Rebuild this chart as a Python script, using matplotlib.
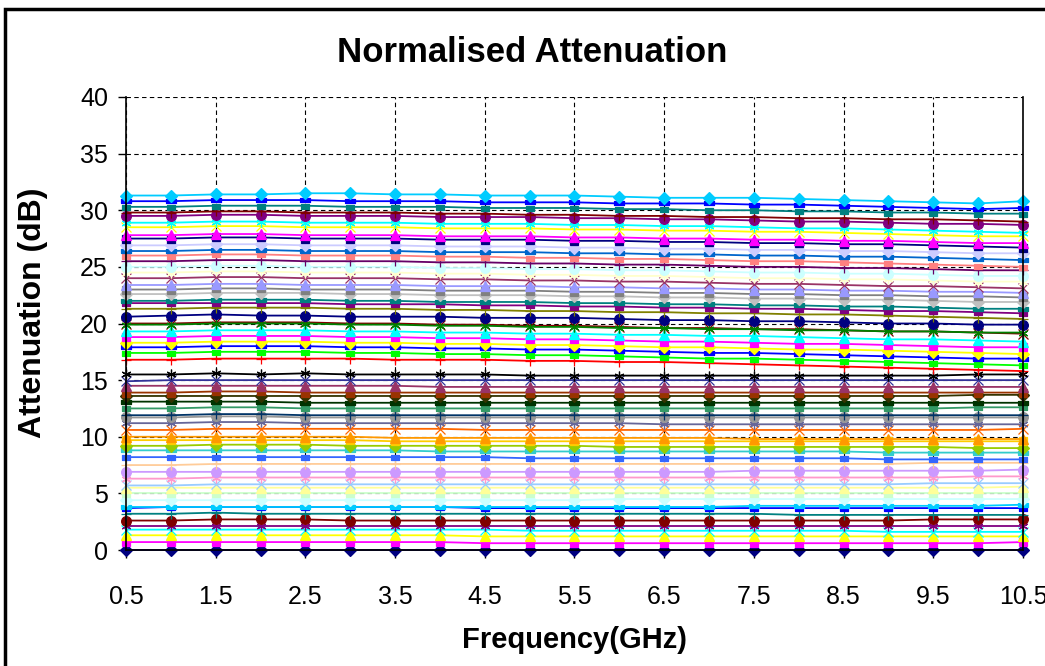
import matplotlib.pyplot as plt
import numpy as np
from matplotlib.patches import Rectangle

plt.rcParams['font.family'] = ['Liberation Sans', 'DejaVu Sans']

# frequency points (GHz), every 0.5 GHz
freq = np.arange(0.5, 10.51, 0.5)
tick_labels = ['0.5', '1.5', '2.5', '3.5', '4.5', '5.5', '6.5', '7.5', '8.5', '9.5', '10.5']

# normalised attenuation per trace (dB), bottom trace first
attenuation = [
    [0.0, 0.0, 0.0, 0.0, 0.0, 0.0, 0.0, 0.0, 0.0, 0.0, 0.0, 0.0, 0.0, 0.0, 0.0, 0.0, 0.0, 0.0, 0.0, 0.0, 0.0],
    [0.7, 0.7, 0.7, 0.7, 0.7, 0.7, 0.7, 0.7, 0.6, 0.6, 0.6, 0.6, 0.6, 0.6, 0.6, 0.6, 0.6, 0.6, 0.6, 0.6, 0.7],
    [1.3, 1.3, 1.3, 1.3, 1.3, 1.3, 1.3, 1.3, 1.2, 1.2, 1.2, 1.2, 1.2, 1.2, 1.2, 1.2, 1.2, 1.2, 1.2, 1.2, 1.2],
    [1.8, 1.8, 1.8, 1.8, 1.8, 1.8, 1.8, 1.8, 1.8, 1.7, 1.7, 1.7, 1.7, 1.7, 1.7, 1.7, 1.7, 1.6, 1.6, 1.6, 1.6],
    [2.1, 2.1, 2.1, 2.1, 2.1, 2.1, 2.1, 2.1, 2.1, 2.1, 2.1, 2.1, 2.1, 2.1, 2.1, 2.1, 2.1, 2.1, 2.1, 2.1, 2.1],
    [2.6, 2.6, 2.7, 2.7, 2.7, 2.6, 2.6, 2.6, 2.6, 2.6, 2.6, 2.6, 2.6, 2.6, 2.6, 2.6, 2.6, 2.6, 2.7, 2.7, 2.7],
    [3.2, 3.2, 3.3, 3.2, 3.2, 3.2, 3.2, 3.2, 3.2, 3.2, 3.2, 3.2, 3.2, 3.2, 3.2, 3.1, 3.1, 3.1, 3.1, 3.1, 3.1],
    [3.7, 3.8, 3.8, 3.8, 3.8, 3.8, 3.8, 3.8, 3.7, 3.7, 3.7, 3.7, 3.7, 3.7, 3.7, 3.7, 3.7, 3.7, 3.7, 3.7, 3.7],
    [3.8, 3.8, 3.8, 3.8, 3.8, 3.8, 3.8, 3.8, 3.8, 3.8, 3.8, 3.8, 3.8, 3.8, 3.9, 3.9, 3.9, 3.9, 3.9, 3.9, 4.0],
    [4.4, 4.4, 4.4, 4.4, 4.4, 4.4, 4.4, 4.4, 4.4, 4.4, 4.4, 4.5, 4.5, 4.5, 4.5, 4.5, 4.5, 4.5, 4.5, 4.5, 4.5],
    [5.0, 5.0, 5.0, 5.0, 5.0, 5.0, 5.0, 5.0, 5.0, 5.0, 5.0, 5.0, 5.0, 5.0, 5.0, 5.0, 5.0, 5.0, 5.0, 5.0, 5.0],
    [5.5, 5.5, 5.5, 5.5, 5.5, 5.5, 5.5, 5.5, 5.5, 5.5, 5.5, 5.5, 5.5, 5.5, 5.5, 5.5, 5.5, 5.5, 5.5, 5.5, 5.6],
    [5.7, 5.7, 5.8, 5.8, 5.8, 5.8, 5.8, 5.8, 5.8, 5.8, 5.8, 5.8, 5.8, 5.8, 5.8, 5.8, 5.8, 5.8, 5.9, 5.9, 5.9],
    [6.3, 6.3, 6.4, 6.4, 6.4, 6.4, 6.4, 6.4, 6.4, 6.4, 6.4, 6.4, 6.4, 6.4, 6.4, 6.4, 6.4, 6.4, 6.4, 6.5, 6.5],
    [6.9, 6.9, 6.9, 6.9, 6.9, 6.9, 6.9, 6.9, 6.9, 6.9, 6.9, 6.9, 6.9, 6.9, 7.0, 7.0, 7.0, 7.0, 7.0, 7.0, 7.1],
    [7.5, 7.5, 7.6, 7.6, 7.6, 7.6, 7.6, 7.6, 7.6, 7.6, 7.6, 7.6, 7.6, 7.6, 7.6, 7.6, 7.6, 7.6, 7.7, 7.7, 7.7],
    [8.2, 8.2, 8.2, 8.2, 8.2, 8.2, 8.2, 8.2, 8.2, 8.1, 8.1, 8.1, 8.1, 8.1, 8.1, 8.1, 8.1, 8.0, 8.0, 8.0, 8.0],
    [8.8, 8.8, 8.8, 8.8, 8.8, 8.8, 8.8, 8.7, 8.7, 8.7, 8.7, 8.7, 8.7, 8.7, 8.7, 8.7, 8.7, 8.6, 8.6, 8.6, 8.6],
    [9.2, 9.2, 9.3, 9.3, 9.3, 9.2, 9.2, 9.2, 9.2, 9.2, 9.2, 9.1, 9.1, 9.1, 9.1, 9.1, 9.1, 9.1, 9.1, 9.0, 9.0],
    [9.7, 9.7, 9.7, 9.7, 9.7, 9.7, 9.6, 9.6, 9.6, 9.6, 9.6, 9.6, 9.6, 9.6, 9.6, 9.6, 9.6, 9.6, 9.6, 9.6, 9.6],
    [10.0, 10.0, 10.0, 10.0, 10.0, 10.0, 9.9, 9.9, 9.9, 9.9, 9.9, 9.9, 9.9, 9.9, 9.8, 9.8, 9.8, 9.8, 9.8, 9.8, 9.8],
    [10.6, 10.6, 10.7, 10.7, 10.7, 10.7, 10.7, 10.7, 10.6, 10.6, 10.6, 10.6, 10.6, 10.6, 10.6, 10.6, 10.6, 10.6, 10.6, 10.6, 10.7],
    [11.2, 11.2, 11.3, 11.3, 11.2, 11.2, 11.2, 11.2, 11.2, 11.2, 11.2, 11.2, 11.1, 11.1, 11.1, 11.1, 11.1, 11.1, 11.1, 11.1, 11.1],
    [11.7, 11.7, 11.8, 11.8, 11.7, 11.7, 11.7, 11.7, 11.7, 11.7, 11.7, 11.7, 11.7, 11.7, 11.7, 11.7, 11.7, 11.7, 11.7, 11.7, 11.7],
    [11.9, 11.9, 12.0, 12.0, 11.9, 11.9, 11.9, 11.9, 11.9, 11.9, 11.9, 11.9, 11.9, 11.9, 11.9, 11.9, 11.9, 11.9, 11.9, 11.9, 11.9],
    [12.5, 12.5, 12.6, 12.6, 12.5, 12.5, 12.5, 12.5, 12.5, 12.5, 12.5, 12.5, 12.5, 12.5, 12.5, 12.5, 12.5, 12.5, 12.5, 12.6, 12.6],
    [13.1, 13.1, 13.1, 13.1, 13.0, 13.0, 13.0, 13.0, 13.0, 13.0, 13.0, 13.0, 13.0, 13.0, 13.0, 13.0, 13.0, 13.0, 13.0, 13.0, 13.0],
    [13.6, 13.6, 13.6, 13.6, 13.6, 13.6, 13.6, 13.6, 13.6, 13.6, 13.6, 13.6, 13.6, 13.6, 13.6, 13.6, 13.6, 13.6, 13.6, 13.7, 13.7],
    [13.9, 13.9, 14.0, 14.0, 13.9, 13.9, 13.9, 13.9, 13.9, 13.9, 13.9, 13.9, 13.9, 13.9, 13.9, 13.9, 13.9, 13.9, 13.9, 13.9, 13.9],
    [14.5, 14.5, 14.5, 14.5, 14.5, 14.5, 14.5, 14.4, 14.4, 14.4, 14.4, 14.4, 14.4, 14.4, 14.4, 14.4, 14.4, 14.4, 14.4, 14.4, 14.4],
    [14.9, 15.0, 15.0, 15.0, 15.0, 15.0, 15.0, 15.0, 15.0, 15.0, 15.0, 15.0, 15.0, 15.0, 15.0, 15.0, 15.0, 15.0, 15.0, 15.0, 15.0],
    [15.5, 15.5, 15.6, 15.5, 15.6, 15.5, 15.5, 15.5, 15.5, 15.4, 15.4, 15.4, 15.4, 15.4, 15.4, 15.4, 15.4, 15.4, 15.4, 15.5, 15.5],
    [15.3, 15.3, 15.3, 15.3, 15.3, 15.3, 15.3, 15.3, 15.3, 15.3, 15.3, 15.3, 15.3, 15.3, 15.3, 15.3, 15.4, 15.4, 15.4, 15.4, 15.4],
    [16.8, 16.8, 16.9, 16.9, 16.9, 16.9, 16.8, 16.8, 16.8, 16.7, 16.7, 16.6, 16.6, 16.5, 16.4, 16.3, 16.2, 16.1, 16.0, 15.9, 15.8],
    [17.4, 17.4, 17.5, 17.5, 17.5, 17.4, 17.4, 17.3, 17.3, 17.2, 17.2, 17.1, 17.0, 16.9, 16.9, 16.8, 16.7, 16.6, 16.5, 16.4, 16.3],
    [17.9, 17.9, 18.0, 18.0, 18.0, 17.9, 17.9, 17.8, 17.8, 17.7, 17.7, 17.6, 17.5, 17.4, 17.4, 17.3, 17.2, 17.1, 17.0, 16.9, 16.9],
    [18.3, 18.3, 18.4, 18.4, 18.4, 18.3, 18.3, 18.2, 18.2, 18.1, 18.1, 18.0, 17.9, 17.9, 17.8, 17.7, 17.7, 17.6, 17.5, 17.4, 17.3],
    [18.8, 18.8, 18.9, 18.9, 18.9, 18.8, 18.8, 18.7, 18.7, 18.6, 18.6, 18.5, 18.4, 18.4, 18.3, 18.2, 18.2, 18.1, 18.0, 17.9, 17.9],
    [19.3, 19.3, 19.4, 19.4, 19.4, 19.3, 19.3, 19.2, 19.2, 19.1, 19.1, 19.0, 19.0, 18.9, 18.9, 18.8, 18.7, 18.6, 18.6, 18.5, 18.4],
    [20.0, 20.0, 20.1, 20.1, 20.1, 20.0, 20.0, 19.9, 19.9, 19.8, 19.8, 19.7, 19.6, 19.6, 19.5, 19.5, 19.4, 19.3, 19.3, 19.2, 19.1],
    [19.9, 19.9, 20.0, 20.0, 20.0, 19.9, 19.9, 19.8, 19.8, 19.7, 19.7, 19.6, 19.6, 19.5, 19.5, 19.4, 19.4, 19.3, 19.3, 19.2, 19.2],
    [20.6, 20.7, 20.8, 20.7, 20.7, 20.6, 20.6, 20.6, 20.5, 20.5, 20.5, 20.4, 20.3, 20.3, 20.2, 20.2, 20.1, 20.0, 20.0, 19.9, 19.9],
    [21.3, 21.3, 21.4, 21.4, 21.4, 21.3, 21.3, 21.2, 21.2, 21.1, 21.1, 21.0, 21.0, 20.9, 20.9, 20.8, 20.8, 20.7, 20.6, 20.5, 20.4],
    [21.8, 21.8, 21.8, 21.8, 21.8, 21.7, 21.7, 21.7, 21.6, 21.6, 21.5, 21.5, 21.4, 21.4, 21.3, 21.3, 21.2, 21.1, 21.1, 21.0, 20.9],
    [22.0, 22.0, 22.1, 22.1, 22.1, 22.0, 22.0, 21.9, 21.9, 21.9, 21.8, 21.8, 21.7, 21.7, 21.6, 21.6, 21.5, 21.5, 21.4, 21.3, 21.3],
    [22.6, 22.6, 22.7, 22.7, 22.7, 22.6, 22.6, 22.5, 22.5, 22.5, 22.4, 22.4, 22.3, 22.3, 22.2, 22.2, 22.1, 22.1, 22.0, 21.9, 21.9],
    [23.0, 23.0, 23.1, 23.1, 23.0, 23.0, 23.0, 22.9, 22.9, 22.9, 22.8, 22.8, 22.7, 22.7, 22.6, 22.6, 22.5, 22.5, 22.4, 22.4, 22.3],
    [23.4, 23.4, 23.5, 23.5, 23.4, 23.4, 23.4, 23.3, 23.3, 23.3, 23.2, 23.2, 23.1, 23.1, 23.0, 23.0, 22.9, 22.9, 22.8, 22.8, 22.7],
    [24.0, 24.0, 24.1, 24.1, 24.0, 24.0, 24.0, 23.9, 23.9, 23.8, 23.8, 23.7, 23.7, 23.6, 23.5, 23.5, 23.4, 23.3, 23.3, 23.2, 23.1],
    [24.5, 24.5, 24.6, 24.6, 24.5, 24.5, 24.5, 24.4, 24.4, 24.3, 24.3, 24.2, 24.2, 24.1, 24.0, 24.0, 23.9, 23.9, 23.8, 23.7, 23.7],
    [25.0, 25.0, 25.1, 25.1, 25.0, 25.0, 25.0, 24.9, 24.9, 24.8, 24.8, 24.7, 24.7, 24.6, 24.5, 24.5, 24.4, 24.4, 24.3, 24.2, 24.2],
    [25.5, 25.5, 25.6, 25.6, 25.5, 25.5, 25.5, 25.4, 25.4, 25.3, 25.3, 25.2, 25.2, 25.1, 25.0, 25.0, 24.9, 24.9, 24.8, 24.7, 24.7],
    [26.0, 26.0, 26.1, 26.1, 26.0, 26.0, 26.0, 25.9, 25.9, 25.8, 25.8, 25.7, 25.7, 25.6, 25.5, 25.5, 25.4, 25.3, 25.2, 25.1, 25.0],
    [26.4, 26.4, 26.5, 26.5, 26.4, 26.4, 26.4, 26.3, 26.3, 26.3, 26.2, 26.2, 26.1, 26.1, 26.0, 26.0, 25.9, 25.9, 25.8, 25.7, 25.6],
    [26.9, 26.9, 27.0, 27.0, 26.9, 26.9, 26.9, 26.8, 26.8, 26.8, 26.7, 26.7, 26.6, 26.6, 26.5, 26.5, 26.4, 26.4, 26.3, 26.2, 26.2],
    [27.5, 27.5, 27.6, 27.6, 27.5, 27.5, 27.5, 27.4, 27.4, 27.4, 27.3, 27.3, 27.2, 27.2, 27.1, 27.1, 27.0, 27.0, 26.9, 26.8, 26.7],
    [27.8, 27.8, 27.9, 27.9, 27.8, 27.8, 27.8, 27.7, 27.7, 27.7, 27.6, 27.6, 27.5, 27.5, 27.4, 27.4, 27.3, 27.3, 27.2, 27.1, 27.1],
    [28.5, 28.5, 28.6, 28.6, 28.5, 28.5, 28.5, 28.4, 28.4, 28.4, 28.3, 28.3, 28.2, 28.2, 28.1, 28.1, 28.0, 27.9, 27.8, 27.7, 27.7],
    [28.9, 28.9, 29.0, 29.0, 28.9, 28.9, 28.9, 28.8, 28.8, 28.8, 28.7, 28.7, 28.6, 28.6, 28.5, 28.4, 28.4, 28.3, 28.2, 28.1, 28.0],
    [29.5, 29.5, 29.6, 29.6, 29.5, 29.5, 29.5, 29.4, 29.4, 29.4, 29.3, 29.3, 29.2, 29.2, 29.1, 29.0, 29.0, 28.9, 28.8, 28.8, 28.7],
    [29.8, 29.8, 29.9, 29.9, 29.8, 29.8, 29.8, 29.7, 29.7, 29.6, 29.6, 29.5, 29.5, 29.4, 29.4, 29.3, 29.3, 29.2, 29.2, 29.1, 29.0],
    [30.3, 30.3, 30.4, 30.4, 30.4, 30.3, 30.3, 30.3, 30.2, 30.2, 30.2, 30.1, 30.1, 30.0, 30.0, 29.9, 29.9, 29.8, 29.8, 29.7, 29.7],
    [30.8, 30.8, 30.9, 30.9, 30.9, 30.8, 30.8, 30.8, 30.7, 30.7, 30.7, 30.6, 30.6, 30.6, 30.5, 30.5, 30.4, 30.3, 30.2, 30.1, 30.2],
    [31.3, 31.3, 31.4, 31.4, 31.5, 31.5, 31.4, 31.4, 31.3, 31.3, 31.3, 31.2, 31.1, 31.1, 31.1, 31.0, 30.9, 30.8, 30.7, 30.6, 30.8],
]

# Excel-style series palette, in series order
colors = [
    '#000080', '#FF00FF', '#FFFF00', '#00FFFF', '#800080', '#800000', '#008080', '#0000FF',
    '#00CCFF', '#CCFFFF', '#CCFFCC', '#FFFF99', '#99CCFF', '#FF99CC', '#CC99FF', '#FFCC99',
    '#3366FF', '#33CCCC', '#99CC00', '#FFCC00', '#FF9900', '#FF6600', '#666699', '#969696',
    '#003366', '#339966', '#003300', '#333300', '#993300', '#993366', '#333399', '#000000',
    '#FFFFFF', '#FF0000', '#00FF00', '#0000FF', '#FFFF00', '#FF00FF', '#00FFFF', '#800000',
    '#008000', '#000080', '#808000', '#800080', '#008080', '#C0C0C0', '#808080', '#9999FF',
    '#993366', '#FFFFCC', '#CCFFFF', '#660066', '#FF8080', '#0066CC', '#CCCCFF', '#000080',
    '#FF00FF', '#FFFF00', '#00FFFF', '#800080', '#800000', '#008080', '#0000FF', '#00CCFF',
]

short_bar = [(-1, -0.6), (1, -0.6), (1, 0.6), (-1, 0.6), (-1, -0.6)]
long_bar = [(-1, -0.45), (1, -0.45), (1, 0.45), (-1, 0.45), (-1, -0.45)]
marker_cycle = ['D', 's', '^', 'x', (6, 2, 0), 'o', '+', short_bar, long_bar]
size_cycle = [6, 5.5, 7, 6.5, 7, 7, 7, 6, 7.5]

fig = plt.figure(figsize=(10.45, 6.66), dpi=100)
ax = fig.add_axes([126 / 1045, 116 / 666, 897 / 1045, 453 / 666])

for i, vals in enumerate(attenuation):
    k = i % len(marker_cycle)
    z = 2.5 if colors[i] == '#FFFFFF' else 3
    ax.plot(freq, vals, color=colors[i], lw=1.3, marker=marker_cycle[k],
            markersize=size_cycle[k], markerfacecolor=colors[i],
            markeredgecolor=colors[i], markeredgewidth=0.9, zorder=z, clip_on=False)

ax.set_xlim(0.5, 10.5)
ax.set_ylim(0, 40)
ax.set_xticks(np.arange(0.5, 10.51, 1.0))
ax.set_xticklabels(tick_labels)
ax.set_yticks(np.arange(0, 41, 5))
ax.tick_params(axis='x', labelsize=18, length=6, width=1, pad=19, direction='out')
ax.tick_params(axis='y', labelsize=18, length=6, width=1, pad=7, direction='out')
ax.grid(True, color='black', linestyle=(0, (4, 3)), lw=0.8, zorder=1)
ax.set_axisbelow(True)

ax.spines['top'].set_visible(False)
for s in ['left', 'bottom', 'right']:
    ax.spines[s].set_color('black')
    ax.spines[s].set_linewidth(1.2)
    ax.spines[s].set_zorder(4)

fig.text(532 / 1045, 1 - 53 / 666, 'Normalised Attenuation', ha='center', va='center',
         fontsize=25, fontweight='bold')
fig.text(574 / 1045, 1 - 640 / 666, 'Frequency(GHz)', ha='center', va='center',
         fontsize=21, fontweight='bold')
fig.text(33 / 1045, 1 - 313 / 666, 'Attenuation (dB)', ha='center', va='center',
         fontsize=23, fontweight='bold', rotation=90)

# chart area border
fig.patches.append(Rectangle((5 / 1045, -0.1), 1.2, 1.1 - 9 / 666, transform=fig.transFigure,
                             fill=False, edgecolor='black', lw=2.5))

fig.savefig('out.png', dpi=100)
